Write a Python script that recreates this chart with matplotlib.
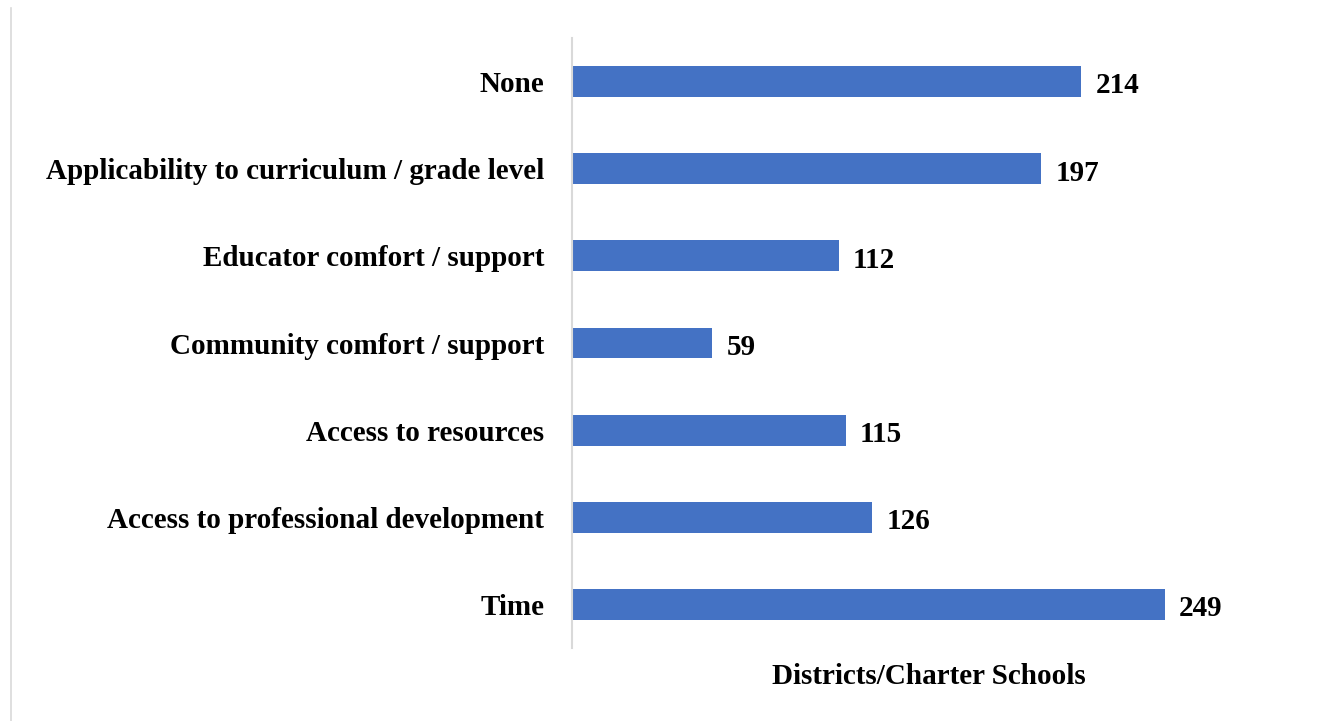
import matplotlib
matplotlib.use("Agg")
import matplotlib.pyplot as plt
from matplotlib.lines import Line2D

categories = [
    "None",
    "Applicability to curriculum / grade level",
    "Educator comfort / support",
    "Community comfort / support",
    "Access to resources",
    "Access to professional development",
    "Time",
]
counts = [214, 197, 112, 59, 115, 126, 249]
x_label = "Districts/Charter Schools"

BAR_COLOR = "#4472C4"
FONT = "Liberation Serif"

W, H = 1317, 721
fig = plt.figure(figsize=(W / 100, H / 100), dpi=100)
fig.patch.set_facecolor("white")

# axes box in pixels: left 572, right 1286, top 38, bottom 648
ax = fig.add_axes([572 / W, 1 - 648 / H, (1286 - 572) / W, (648 - 38) / H])

ypos = list(range(len(categories)))
ax.barh(ypos, counts, height=0.355, color=BAR_COLOR, zorder=2)
ax.set_ylim(len(categories) - 0.5, -0.5)
ax.set_xlim(0, 300)

ax.set_yticks(ypos)
ax.set_yticklabels(categories, fontfamily=FONT, fontweight="bold", fontsize=21)
ax.tick_params(axis="y", length=0, pad=20)
ax.set_xticks([])

for s in ("top", "right", "bottom"):
    ax.spines[s].set_visible(False)
ax.spines["left"].set_color("#D9D9D9")
ax.spines["left"].set_linewidth(1.5)

for y, v in zip(ypos, counts):
    ax.text(v + 6, y + 0.05, str(v), va="center", ha="left",
            fontfamily=FONT, fontweight="bold", fontsize=21)

ax.set_xlabel(x_label, fontfamily=FONT, fontweight="bold", fontsize=21, labelpad=11)

# thin frame line along the left edge of the figure
fig.add_artist(Line2D([10.5 / W, 10.5 / W], [0, 1 - 8 / H],
                      transform=fig.transFigure, color="#D9D9D9", linewidth=1.2))

fig.savefig("out.png", dpi=100, facecolor="white")
